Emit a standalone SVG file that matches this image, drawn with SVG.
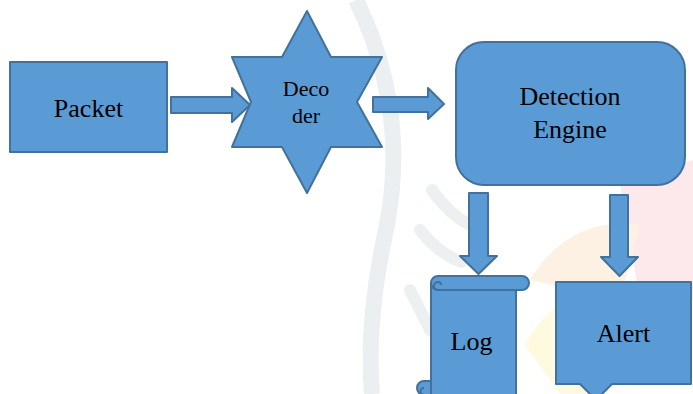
<svg xmlns="http://www.w3.org/2000/svg" width="693" height="394" viewBox="0 0 693 394">
<style>
.shape{fill:#5B9BD5;stroke:#41719C;stroke-width:2;stroke-linejoin:round}
.lbl{font-family:'Liberation Serif','Times New Roman',serif;font-size:26px;fill:#000;text-anchor:middle}
.small{font-size:22px}
</style>
<rect width="693" height="394" fill="#ffffff"/>
<g id="watermark">
<path d="M620,185 L693,160 L693,300 L640,300 Z" fill="#fde9eb"/>
<path d="M530,280 Q570,215 640,225 L620,300 Z" fill="#fdf1e4"/>
<path d="M525,345 Q555,290 600,300 L600,394 L560,394 Z" fill="#fdfae0"/>
<path d="M356,0 Q410,110 386,230 Q366,320 372,394" fill="none" stroke="#eceff1" stroke-width="16"/>
<path d="M432,190 Q450,215 470,225 M420,230 Q440,255 462,262 M410,290 Q425,320 430,330" fill="none" stroke="#edf0f1" stroke-width="12" stroke-linecap="round"/>
</g>
<g id="connectors">
<path class="shape" d="M171,97 H232 V88 L250,105 L232,122 V113 H171 Z"/>
<path class="shape" d="M373,97 H428 V88 L444,104 L428,119 V112 H373 Z"/>
<path class="shape" d="M469,193 H488 V256 H497 L478.5,274 L460,256 H469 Z"/>
<path class="shape" d="M610,195 H628 V257 H638 L619.5,276 L601,257 H610 Z"/>
</g>
<g id="packet">
<rect class="shape" x="10" y="62" width="157" height="90"/>
<text class="lbl" x="88.5" y="117">Packet</text>
</g>
<g id="decoder">
<polygon class="shape" points="307,11 331,57 382,57 357,102 382,147 331,147 307,193 282,147 232,147 251,102 232,57 282,57"/>
<text class="lbl small" x="306" y="96">Deco</text>
<text class="lbl small" x="306" y="123">der</text>
</g>
<g id="detection-engine">
<rect class="shape" x="456" y="42" width="229" height="143" rx="28" ry="28"/>
<text class="lbl" x="570" y="105">Detection</text>
<text class="lbl" x="570" y="138">Engine</text>
</g>
<g id="log">
<path class="shape" d="M431,283 H516 V400 H431 Z"/>
<path class="shape" d="M438,276 H522 A7,7 0 0 1 522,290 H438 A7,7 0 0 1 438,276 Z"/>
<path d="M438,290 A4,4 0 0 1 438,282 A3,3 0 0 1 441,285" fill="none" stroke="#41719C" stroke-width="2"/>
<path class="shape" d="M431,381 H424 A7,7 0 0 0 424,395 H431 Z"/>
<path d="M424,395 A3,3 0 0 1 424,388" fill="none" stroke="#41719C" stroke-width="2"/>
<text class="lbl" x="471.5" y="350">Log</text>
</g>
<g id="alert">
<path class="shape" d="M556,282 H691 V384 H612 L596,400 L580,384 H556 Z"/>
<text class="lbl" x="623.5" y="342">Alert</text>
</g>
</svg>
